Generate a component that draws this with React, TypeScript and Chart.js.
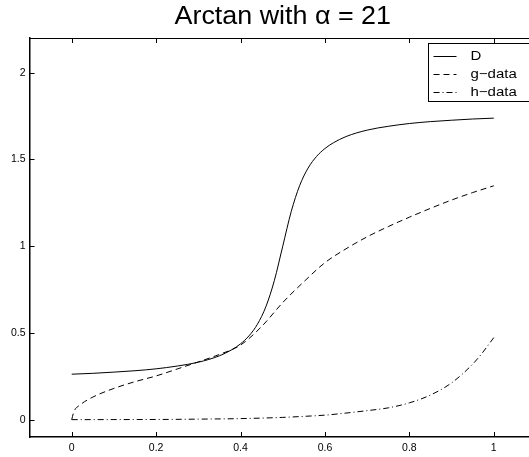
import React, { useEffect, useRef } from "react";
import { Chart, registerables } from "chart.js";

Chart.register(...registerables);

const titleText = "Arctan with \u03B1 = 21";
const xTicks = [0, 0.2, 0.4, 0.6, 0.8, 1];
const yTicks = [0, 0.5, 1, 1.5, 2];

const dLabel = "D";
const dX = [0, 0.05, 0.1, 0.15, 0.2, 0.25, 0.3, 0.35, 0.38, 0.4, 0.42, 0.44, 0.46, 0.48, 0.5, 0.52, 0.54, 0.56, 0.58, 0.6, 0.62, 0.65, 0.7, 0.75, 0.8, 0.85, 0.9, 0.95, 1];
const dY = [0.262, 0.267, 0.274, 0.282, 0.293, 0.309, 0.331, 0.368, 0.404, 0.437, 0.483, 0.55, 0.651, 0.801, 1.0, 1.199, 1.349, 1.45, 1.517, 1.563, 1.596, 1.632, 1.669, 1.691, 1.707, 1.718, 1.726, 1.733, 1.738];

const gLabel = "g\u2212data";
const gX = [0, 0.005, 0.02, 0.05, 0.1, 0.15, 0.2, 0.25, 0.3, 0.35, 0.4, 0.45, 0.5, 0.55, 0.6, 0.65, 0.7, 0.75, 0.8, 0.85, 0.9, 0.95, 1];
const gY = [0, 0.045, 0.085, 0.13, 0.18, 0.219, 0.252, 0.292, 0.333, 0.376, 0.43, 0.537, 0.675, 0.795, 0.905, 0.985, 1.054, 1.113, 1.167, 1.218, 1.266, 1.309, 1.348];

const hLabel = "h\u2212data";
const hX = [0, 0.1, 0.2, 0.3, 0.4, 0.45, 0.5, 0.55, 0.6, 0.65, 0.7, 0.75, 0.8, 0.85, 0.9, 0.95, 0.97, 1];
const hY = [0, 0.0005, 0.001, 0.003, 0.006, 0.009, 0.013, 0.019, 0.026, 0.038, 0.052, 0.068, 0.097, 0.142, 0.212, 0.32, 0.376, 0.473];

const FONT = "'Liberation Sans', Arial, Helvetica, sans-serif";

const toPts = (xs: number[], ys: number[]) => xs.map((x, i) => ({ x, y: ys[i] }));

const decorPlugin = {
  id: "decor",
  afterDraw(chart: any) {
    const { ctx, chartArea, scales } = chart;
    const { left, right, top, bottom } = chartArea;
    const xs = scales.x;
    const ys = scales.y;
    ctx.save();
    ctx.strokeStyle = "#000";
    ctx.lineWidth = 1;
    ctx.setLineDash([]);
    ctx.beginPath();
    ctx.moveTo(left, top + 0.5);
    ctx.lineTo(right, top + 0.5);
    const tl = 5;
    for (const v of xTicks) {
      const px = Math.round(xs.getPixelForValue(v)) + 0.5;
      ctx.moveTo(px, bottom);
      ctx.lineTo(px, bottom - tl);
      ctx.moveTo(px, top);
      ctx.lineTo(px, top + tl);
    }
    for (const v of yTicks) {
      const py = Math.round(ys.getPixelForValue(v)) + 0.5;
      ctx.moveTo(left, py);
      ctx.lineTo(left + tl, py);
      ctx.moveTo(right, py);
      ctx.lineTo(right - tl, py);
    }
    ctx.stroke();

    // title (slightly wide lettering, as in the reference)
    ctx.fillStyle = "#000";
    ctx.font = `25px ${FONT}`;
    ctx.textAlign = "center";
    ctx.textBaseline = "alphabetic";
    ctx.save();
    ctx.translate((left + right) / 2, 23.5);
    ctx.scale(1.075, 1);
    ctx.fillText(titleText, 0, 0);
    ctx.restore();

    // legend
    const lx = Math.round(right - 108) + 0.5;
    const ly = Math.round(top + 5) + 0.5;
    const lw = 101;
    const lh = 58;
    ctx.fillStyle = "#fff";
    ctx.fillRect(lx, ly, lw, lh);
    ctx.strokeStyle = "#000";
    ctx.lineWidth = 1;
    ctx.strokeRect(lx, ly, lw, lh);
    ctx.font = `12.5px ${FONT}`;
    ctx.textAlign = "left";
    ctx.textBaseline = "middle";
    chart.data.datasets.forEach((ds: any, i: number) => {
      const ry = Math.round(ly + 12 + i * 18) + 0.5;
      ctx.beginPath();
      ctx.setLineDash(ds.borderDash || []);
      ctx.lineWidth = 1;
      ctx.moveTo(lx + 5, ry);
      ctx.lineTo(lx + 28, ry);
      ctx.stroke();
      ctx.setLineDash([]);
      ctx.fillStyle = "#000";
      ctx.save();
      ctx.translate(lx + 42, ry + 0.5);
      ctx.scale(1.2, 1);
      ctx.fillText(ds.label, 0, 0);
      ctx.restore();
    });
    ctx.restore();
  },
};

export default function App() {
  const ref = useRef<HTMLCanvasElement | null>(null);
  useEffect(() => {
    if (!ref.current) return;
    const chart = new Chart(ref.current, {
      type: "line",
      data: {
        datasets: [
          {
            label: dLabel,
            data: toPts(dX, dY),
            borderColor: "#000",
            borderWidth: 1,
            borderDash: [],
            pointRadius: 0,
            cubicInterpolationMode: "monotone",
            fill: false,
          },
          {
            label: gLabel,
            data: toPts(gX, gY),
            borderColor: "#000",
            borderWidth: 1,
            borderDash: [6, 4],
            pointRadius: 0,
            cubicInterpolationMode: "monotone",
            fill: false,
          },
          {
            label: hLabel,
            data: toPts(hX, hY),
            borderColor: "#000",
            borderWidth: 1,
            borderDash: [6, 3, 1, 3],
            pointRadius: 0,
            cubicInterpolationMode: "monotone",
            fill: false,
          },
        ],
      },
      options: {
        animation: false,
        responsive: true,
        maintainAspectRatio: false,
        layout: { padding: { top: 38, left: 0, right: 0, bottom: 0 } },
        plugins: {
          legend: { display: false },
          title: { display: false },
          tooltip: { enabled: false },
        },
        scales: {
          x: {
            type: "linear",
            min: -0.1,
            max: 1.1,
            afterBuildTicks: (s: any) => {
              s.ticks = xTicks.map((v) => ({ value: v }));
            },
            afterFit: (s: any) => {
              s.height = 20;
            },
            ticks: {
              color: "#000",
              font: { family: FONT, size: 10.5 },
              padding: 4.5,
              maxRotation: 0,
              autoSkip: false,
              callback: (v: any) => String(v),
            },
            grid: { display: true, drawOnChartArea: false, drawTicks: false },
            border: { display: true, color: "#000", width: 1.5 },
          },
          y: {
            type: "linear",
            min: -0.1,
            max: 2.2,
            afterBuildTicks: (s: any) => {
              s.ticks = yTicks.map((v) => ({ value: v }));
            },
            afterFit: (s: any) => {
              s.width = 29.5;
            },
            ticks: {
              color: "#000",
              font: { family: FONT, size: 10.5 },
              padding: 4,
              autoSkip: false,
              callback: (v: any) => String(v),
            },
            grid: { display: true, drawOnChartArea: false, drawTicks: false },
            border: { display: true, color: "#000", width: 1.5 },
          },
        },
      },
      plugins: [decorPlugin],
    } as any);
    return () => chart.destroy();
  }, []);

  return (
    <div
      style={{
        position: "fixed",
        left: 0,
        top: 0,
        width: 529,
        height: 457,
        overflow: "hidden",
        background: "#fff",
      }}
    >
      <div style={{ position: "relative", width: 536, height: 457 }}>
        <canvas ref={ref} />
      </div>
    </div>
  );
}
